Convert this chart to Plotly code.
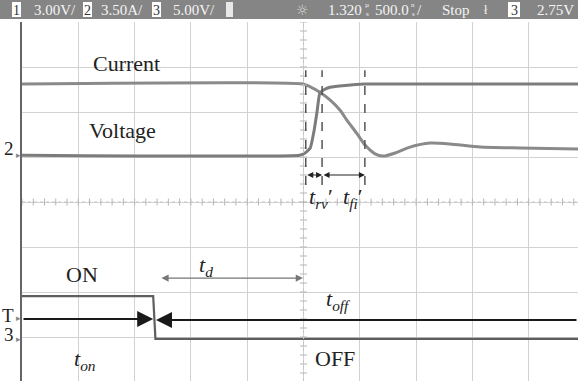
import numpy as np
import plotly.graph_objects as go

# ---------------- data (in screen divisions) ----------------
current_x = [0, 4.99, 5.12, 5.29, 5.47, 5.65, 5.77, 5.95, 6.09, 6.27, 6.41, 6.63, 6.89, 7.25, 7.60, 8.14, 8.85, 9.88]
current_y = [2.62, 2.62, 2.56, 2.44, 2.27, 2.04, 1.82, 1.52, 1.27, 1.07, 1.02, 1.09, 1.22, 1.31, 1.29, 1.22, 1.20, 1.18]

voltage_x = [0, 4.93, 5.03, 5.12, 5.19, 5.24, 5.29, 5.37, 5.47, 5.74, 6.09, 9.88]
voltage_y = [1.04, 1.04, 1.09, 1.20, 1.60, 2.00, 2.42, 2.50, 2.55, 2.59, 2.62, 2.62]

gate_x = [0, 2.33, 2.37, 9.88]
gate_y = [-2.09, -2.09, -3.04, -3.04]

timing_marks = [5.04, 5.33, 6.09]          # dashed t_rv', t_fi' markers
header_left = ["3.00V/", "3.50A/", "5.00V/"]
header_right = ["1.320", "500.0", "Stop", "2.75V"]

# ---------------- geometry ----------------
W, H = 578, 381
L, T = 22, 22
PW, PH = W - L, H - T
DX, DY = 56.3, 45.0
XMAX = PW / DX
YMIN = 4 - PH / DY


def px(x):
    return (x - L) / PW


def py(y):
    return (H - y) / PH


SERIF = "Liberation Serif"
fig = go.Figure()

fig.add_trace(go.Scatter(x=current_x, y=current_y, mode="lines",
                         line=dict(color="#8a8a8a", width=3, shape="spline", smoothing=0.6),
                         hoverinfo="skip"))
fig.add_trace(go.Scatter(x=voltage_x, y=voltage_y, mode="lines",
                         line=dict(color="#7c7c7c", width=3, shape="spline", smoothing=0.4),
                         hoverinfo="skip"))
fig.add_trace(go.Scatter(x=gate_x, y=gate_y, mode="lines",
                         line=dict(color="#5e5e5e", width=2.2), hoverinfo="skip"))

# minor ticks on centre lines
tx = np.arange(0, 10.01, 0.2)
fig.add_trace(go.Scatter(x=tx, y=[0] * len(tx), mode="markers",
                         marker=dict(symbol="line-ns", size=5, line=dict(color="#b5b5b5", width=1)),
                         hoverinfo="skip"))
ty = np.arange(-4, 4.01, 0.2)
fig.add_trace(go.Scatter(x=[5] * len(ty), y=ty, mode="markers",
                         marker=dict(symbol="line-ew", size=5, line=dict(color="#b5b5b5", width=1)),
                         hoverinfo="skip"))

shapes = []
# centre lines
shapes.append(dict(type="line", xref="x", yref="y", x0=0, x1=XMAX, y0=0, y1=0,
                   line=dict(color="#c4c4c4", width=1, dash="dot")))
shapes.append(dict(type="line", xref="x", yref="y", x0=5, x1=5, y0=YMIN, y1=4,
                   line=dict(color="#c4c4c4", width=1, dash="dot")))
# dashed timing markers
for xm in timing_marks:
    shapes.append(dict(type="line", xref="x", yref="y", x0=xm, x1=xm, y0=0.38, y1=2.93,
                       line=dict(color="#555555", width=1.5, dash="dash")))
# header bar
shapes.append(dict(type="rect", xref="paper", yref="paper", x0=px(0), x1=px(W), y0=py(19), y1=py(0),
                   fillcolor="#858585", line=dict(width=0), layer="above"))
# badges
for x0, x1, fc in [(12, 21, "#ffffff"), (83, 92, "#ffffff"), (152, 161, "#ffffff"),
                   (226, 233, "#e8e8e8"), (508, 520, "#ffffff")]:
    shapes.append(dict(type="rect", xref="paper", yref="paper", x0=px(x0), x1=px(x1),
                       y0=py(17), y1=py(2), fillcolor=fc, line=dict(width=0), layer="above"))

ann = []


def txt(s, x, y, size=21, color="#222222", ref="data", family=SERIF):
    if ref == "data":
        xx, yy, xr, yr = x, y, "x", "y"
    else:
        xx, yy, xr, yr = px(x), py(y), "paper", "paper"
    ann.append(dict(text=s, x=xx, y=yy, xref=xr, yref=yr, showarrow=False,
                    xanchor="center", yanchor="middle",
                    font=dict(family=family, size=size, color=color)))


# header text
hc = "#f4f4f4"
txt("1", 16.5, 10, 14, "#333333", ref="px")
txt(header_left[0], 55, 10, 15, hc, ref="px")
txt("2", 87.5, 10, 14, "#333333", ref="px")
txt(header_left[1], 122.5, 10, 15, hc, ref="px")
txt("3", 156.5, 10, 14, "#333333", ref="px")
txt(header_left[2], 193.5, 10, 15, hc, ref="px")
txt("☼", 302, 10, 14, "#dddddd", ref="px", family="DejaVu Sans")
txt(header_right[0], 345, 10, 15, hc, ref="px")
txt("µ", 367, 5, 7, hc, ref="px")
txt("s", 367, 14, 7, hc, ref="px")
txt(header_right[1], 392, 10, 15, hc, ref="px")
txt("n", 413, 5, 7, hc, ref="px")
txt("s", 413, 14, 7, hc, ref="px")
txt("/", 419, 10, 15, hc, ref="px")
txt(header_right[2], 455.5, 10, 15, hc, ref="px")
txt("ł", 486, 10, 12, hc, ref="px")
txt("3", 514, 10, 14, "#333333", ref="px")
txt(header_right[3], 555, 10, 15, hc, ref="px")

# channel markers on the left
txt("2", 9, 148, 19, ref="px")
txt("T", 8, 315, 19, ref="px")
txt("3", 9, 334, 19, ref="px")
for yy in [155, 318, 339]:
    txt("▸", 18, yy, 9, "#888888", ref="px", family="DejaVu Sans")

# labels
txt("Current", 1.86, 3.07, 22)
txt("Voltage", 1.78, 1.60, 22)
txt("ON", 1.07, -1.62, 22)
txt("OFF", 5.56, -3.47, 22)
txt("<i>t<sub>d</sub></i>", 3.27, -1.42, 22)
txt("<i>t<sub>on</sub></i>", 1.12, -3.50, 22)
txt("<i>t<sub>off</sub></i>", 5.63, -2.18, 22)
txt("<i>t<sub>rv</sub></i>′", 5.31, 0.10, 22)
txt("<i>t<sub>fi</sub></i>′", 5.88, 0.10, 22)


def arrow(x_head, y_head, x_tail, y_tail, color, width, size, head=2, both=False):
    d = dict(x=x_head, y=y_head, ax=x_tail, ay=y_tail, xref="x", yref="y", axref="x", ayref="y",
             text="", showarrow=True, arrowhead=head, arrowsize=size, arrowwidth=width,
             arrowcolor=color)
    if both:
        d["arrowside"] = "end+start"
        d["startarrowhead"] = head
        d["startarrowsize"] = size
    ann.append(d)


arrow(2.33, -2.6, 0.0, -2.6, "#1a1a1a", 2, 1.6)
arrow(2.38, -2.62, XMAX, -2.62, "#1a1a1a", 2, 1.6)
arrow(4.99, -1.69, 2.45, -1.69, "#777777", 1.2, 1.2, both=True)
arrow(5.33, 0.6, 5.04, 0.6, "#222222", 1.2, 1.0, both=True)
arrow(6.09, 0.6, 5.33, 0.6, "#222222", 1.2, 1.0, both=True)

fig.update_layout(
    width=W, height=H,
    margin=dict(l=L, r=0, t=T, b=0, autoexpand=False),
    paper_bgcolor="white", plot_bgcolor="white",
    showlegend=False,
    shapes=shapes, annotations=ann,
    xaxis=dict(range=[0, XMAX], dtick=1, tick0=0, showgrid=True, gridcolor="#d2d2d2", gridwidth=1,
               zeroline=False, showticklabels=False, ticks="", showline=True, linecolor="#666666",
               linewidth=1.5, fixedrange=True, automargin=False),
    yaxis=dict(range=[YMIN, 4], dtick=1, tick0=0, showgrid=True, gridcolor="#d2d2d2", gridwidth=1,
               zeroline=False, showticklabels=False, ticks="", showline=True, linecolor="#666666",
               linewidth=1.5, fixedrange=True, automargin=False),
)

fig.write_html("out.html", config={"displayModeBar": False},
               post_script="document.body.style.margin='0';document.body.style.overflow='hidden';")
